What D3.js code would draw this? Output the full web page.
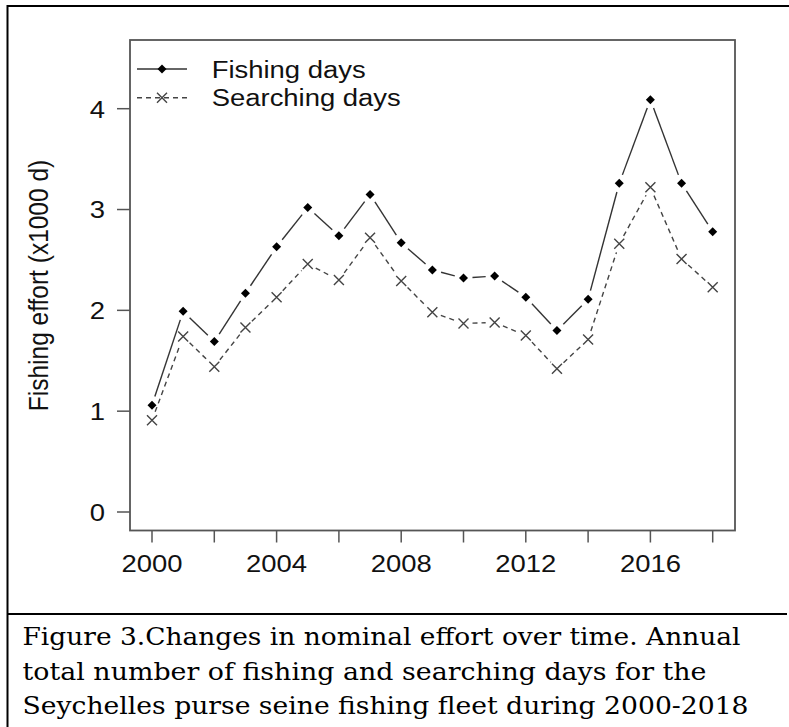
<!DOCTYPE html>
<html>
<head>
<meta charset="utf-8">
<script src="https://cdn.jsdelivr.net/npm/d3@7"></script>
<style>
  body { margin: 0; background: #fff; }
  svg { display: block; }
</style>
</head>
<body>
<div id="chart"></div>
<script>
const years = d3.range(2000, 2019);
const fishingDays = [1.06, 1.99, 1.69, 2.17, 2.63, 3.02, 2.74, 3.15, 2.67, 2.40, 2.32, 2.34, 2.13, 1.80, 2.11, 3.26, 4.09, 3.26, 2.78];
const searchingDays = [0.91, 1.74, 1.44, 1.83, 2.13, 2.46, 2.30, 2.72, 2.29, 1.98, 1.87, 1.88, 1.75, 1.42, 1.71, 2.66, 3.22, 2.51, 2.23];
const yTicks = [0, 1, 2, 3, 4];
const xTicks = [2000, 2002, 2004, 2006, 2008, 2010, 2012, 2014, 2016, 2018];
const xLabels = [2000, 2004, 2008, 2012, 2016];
const legendLabels = ["Fishing days", "Searching days"];
const captionLines = [
  "Figure 3.Changes in nominal effort over time. Annual",
  "total number of fishing and searching days for the",
  "Seychelles purse seine fishing fleet during 2000-2018"
];

const W = 789, H = 727;
const sx = 1.12; // the plot text is a little wider than it is tall

const svg = d3.select("#chart").append("svg")
  .attr("width", W)
  .attr("height", H);

// outer frame of the figure
svg.append("line").attr("x1", 7).attr("x2", 789).attr("y1", 6).attr("y2", 6)
  .attr("stroke", "#000").attr("stroke-width", 2);
svg.append("line").attr("x1", 7.5).attr("x2", 7.5).attr("y1", 5).attr("y2", H)
  .attr("stroke", "#000").attr("stroke-width", 2);
svg.append("line").attr("x1", 7).attr("x2", 787).attr("y1", 614).attr("y2", 614)
  .attr("stroke", "#000").attr("stroke-width", 2);

const x = d3.scaleLinear().domain([2000, 2018]).range([152, 712.7]);
const y = d3.scaleLinear().domain([0, 4]).range([512, 108.7]);

const box = { left: 130, top: 40, right: 735, bottom: 530.5 };
const axisColor = "#555";
const font = "'Liberation Sans', Arial, sans-serif";
const fs = 24.5;

svg.append("rect")
  .attr("x", box.left).attr("y", box.top)
  .attr("width", box.right - box.left).attr("height", box.bottom - box.top)
  .attr("fill", "none").attr("stroke", axisColor).attr("stroke-width", 1.8);

// y axis ticks and labels
svg.selectAll(".ytick").data(yTicks).enter().append("line")
  .attr("x1", box.left - 13).attr("x2", box.left)
  .attr("y1", d => y(d)).attr("y2", d => y(d))
  .attr("stroke", axisColor).attr("stroke-width", 1.5);

svg.selectAll(".ylab").data(yTicks).enter().append("text")
  .attr("transform", d => `translate(105,${y(d) + 8.8}) scale(${sx},1)`)
  .attr("text-anchor", "end")
  .attr("font-family", font).attr("font-size", fs).attr("fill", "#111")
  .text(d => d);

// x axis ticks and labels
svg.selectAll(".xtick").data(xTicks).enter().append("line")
  .attr("x1", d => x(d)).attr("x2", d => x(d))
  .attr("y1", box.bottom).attr("y2", box.bottom + 12)
  .attr("stroke", axisColor).attr("stroke-width", 1.5);

svg.selectAll(".xlab").data(xLabels).enter().append("text")
  .attr("transform", d => `translate(${x(d)},571.5) scale(${sx},1)`)
  .attr("text-anchor", "middle")
  .attr("font-family", font).attr("font-size", fs).attr("fill", "#111")
  .text(d => d);

// y axis title
svg.append("text")
  .attr("transform", `translate(47.5,285.5) scale(${sx},1) rotate(-90)`)
  .attr("text-anchor", "middle")
  .attr("font-family", font).attr("font-size", fs).attr("fill", "#111")
  .text("Fishing effort (x1000 d)");

// lines drawn like R type="b": segments stop short of each point
const gap = 9;
function gappedSegments(values) {
  const pts = values.map((v, i) => [x(years[i]), y(v)]);
  const segs = [];
  for (let i = 0; i < pts.length - 1; i++) {
    const [x1, y1] = pts[i], [x2, y2] = pts[i + 1];
    const len = Math.hypot(x2 - x1, y2 - y1);
    if (len <= 2 * gap) continue;
    const ux = (x2 - x1) / len, uy = (y2 - y1) / len;
    segs.push([x1 + ux * gap, y1 + uy * gap, x2 - ux * gap, y2 - uy * gap]);
  }
  return segs;
}

svg.selectAll(".fseg").data(gappedSegments(fishingDays)).enter().append("line")
  .attr("x1", d => d[0]).attr("y1", d => d[1]).attr("x2", d => d[2]).attr("y2", d => d[3])
  .attr("stroke", "#333").attr("stroke-width", 1.4);

svg.selectAll(".sseg").data(gappedSegments(searchingDays)).enter().append("line")
  .attr("x1", d => d[0]).attr("y1", d => d[1]).attr("x2", d => d[2]).attr("y2", d => d[3])
  .attr("stroke", "#444").attr("stroke-width", 1.4)
  .attr("stroke-dasharray", "5,4");

const diamond = "M0,-4.5L4.5,0L0,4.5L-4.5,0Z";
const cross = "M-5,-5L5,5M-5,5L5,-5";

svg.selectAll(".fpt").data(fishingDays).enter().append("path")
  .attr("transform", (d, i) => `translate(${x(years[i])},${y(d)})`)
  .attr("d", diamond).attr("fill", "#000");

svg.selectAll(".spt").data(searchingDays).enter().append("path")
  .attr("transform", (d, i) => `translate(${x(years[i])},${y(d)})`)
  .attr("d", cross).attr("fill", "none").attr("stroke", "#444").attr("stroke-width", 1.4);

// legend
const legY = [69, 97.7];
const legend = svg.selectAll(".leg").data(legendLabels).enter().append("g")
  .attr("transform", (d, i) => `translate(0,${legY[i]})`);

legend.append("line")
  .attr("x1", 137).attr("x2", 187).attr("y1", 0).attr("y2", 0)
  .attr("stroke", (d, i) => i === 0 ? "#333" : "#444")
  .attr("stroke-width", 1.4)
  .attr("stroke-dasharray", (d, i) => i === 0 ? null : "5,4");

legend.append("path")
  .attr("transform", "translate(162,0)")
  .attr("d", (d, i) => i === 0 ? diamond : cross)
  .attr("fill", (d, i) => i === 0 ? "#000" : "#fff")
  .attr("stroke", (d, i) => i === 0 ? null : "#444")
  .attr("stroke-width", 1.4);

legend.append("text")
  .attr("transform", `translate(211.7,8.7) scale(${sx},1)`)
  .attr("font-family", font).attr("font-size", fs).attr("fill", "#111")
  .text(d => d);

// caption below the figure
const capWidths = [718, 684, 726];
svg.selectAll(".cap").data(captionLines).enter().append("text")
  .attr("x", 22.5)
  .attr("y", (d, i) => 645 + i * 34.5)
  .attr("font-family", "'DejaVu Serif', 'Liberation Serif', serif")
  .attr("font-size", 25)
  .attr("fill", "#000")
  .attr("textLength", (d, i) => capWidths[i])
  .attr("lengthAdjust", "spacingAndGlyphs")
  .text(d => d);
</script>
</body>
</html>
